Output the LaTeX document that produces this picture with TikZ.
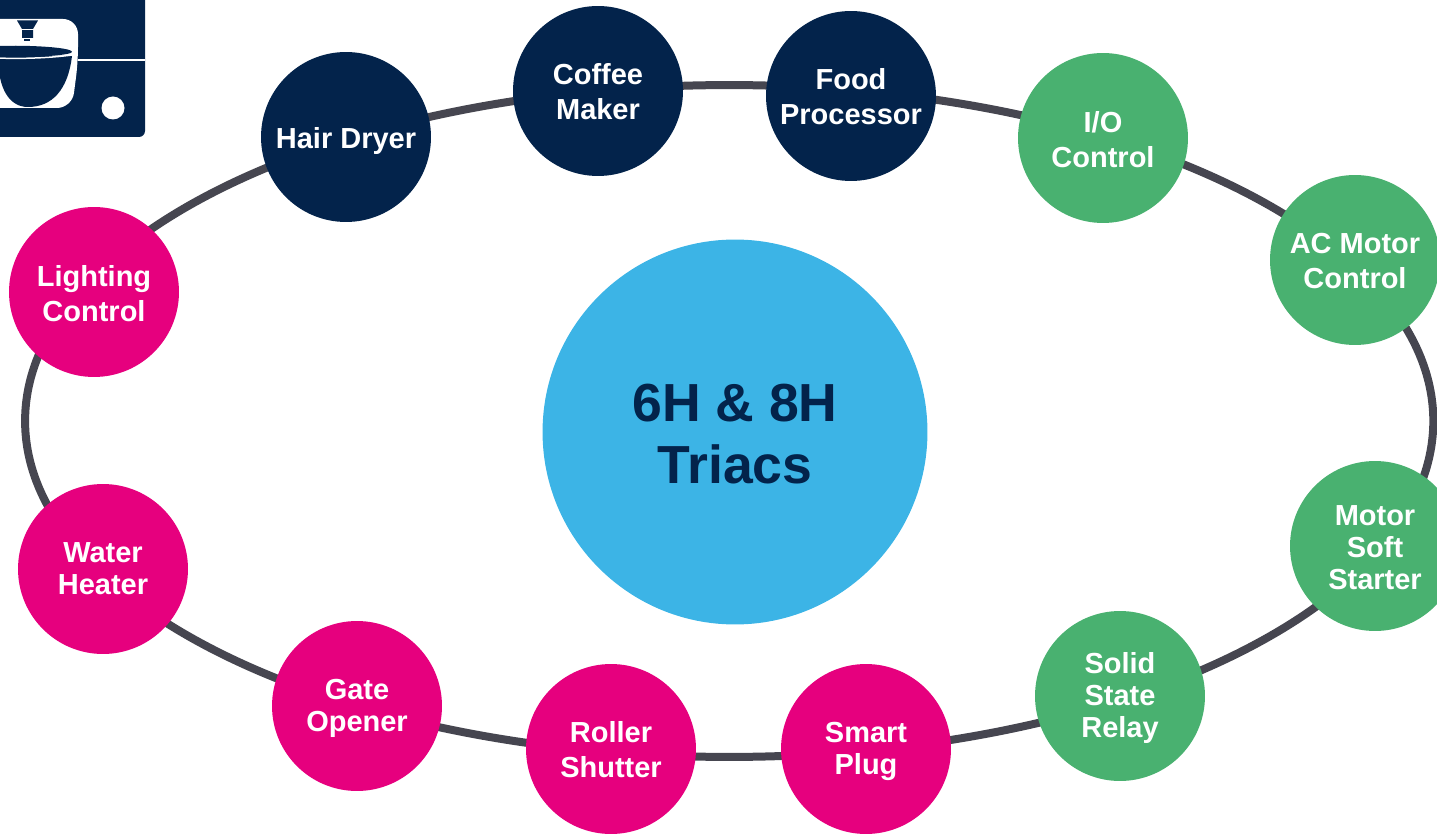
\documentclass[tikz,border=0pt]{standalone}
\usepackage{xcolor}
\usepackage{fontspec}
\setmainfont{Liberation Sans}
\usetikzlibrary{positioning, shapes.geometric}
\definecolor{navyST}{HTML}{03234B}
\definecolor{pinkST}{HTML}{E6007E}
\definecolor{greenST}{HTML}{49B170}
\definecolor{skyST}{HTML}{3CB4E6}
\definecolor{ringST}{HTML}{464650}
\newcommand{\drop}[1]{\rule{0pt}{#1}}
\tikzset{
    ring/.style={ellipse, draw=ringST, line width=0.16cm, inner sep=0pt, outer sep=0pt, minimum width=28.17cm, minimum height=13.44cm},
    hub/.style={circle, fill=skyST, text=navyST, minimum size=7.7cm, inner sep=0pt, align=center, font=\fontsize{30.5}{35.3}\selectfont\bfseries},
    app/.style={circle, text=white, minimum size=3.4cm, inner sep=0pt, align=center, font=\fontsize{16.5}{19.9}\selectfont\bfseries},
    appTight/.style={app, font=\fontsize{16.5}{18.2}\selectfont\bfseries},
    home/.style={fill=navyST},
    control/.style={fill=pinkST},
    power/.style={fill=greenST}
}

\begin{document}
\begin{tikzpicture}[x=0.02cm, y=-0.02cm]
    \useasboundingbox (0,0) rectangle (1437,834);
    \clip (0,0) rectangle (1437,834);

    % Appliance icon
    \fill[navyST, rounded corners=0.12cm] (-20,-20) rectangle (145,137);
    \fill[white, rounded corners=0.3cm] (-20,19) -- (78,19) -- (78,62) -- (72,108) -- (-20,108) -- cycle;
    \draw[white, line width=0.04cm] (78,60.5) -- (145,60.5);
    \fill[white] (113,108) circle (11.5);
    \fill[navyST] (17,20.5) -- (38,20.5) -- (33,29) -- (33,38) -- (22,38) -- (22,29) -- cycle;
    \fill[white] (21,29.3) rectangle (34,30.3);
    \fill[navyST] (24,39) rectangle (30,41);
    \fill[navyST] (-2,56) .. controls (-2,90) and (10,107) .. (28,107) .. controls (52,107) and (68,90) .. (72,56) -- cycle;
    \draw[white, line width=0.03cm] (-2,58) .. controls (20,59) and (50,58) .. (72,55);
    \fill[navyST] (0,46) .. controls (25,45) and (72,47) .. (72,52) .. controls (72,55) and (35,58) .. (0,57) -- cycle;

    % Ring behind the circles
    \node[ring] (track) at (729.2,421) {};

    % Centre
    \node[hub] (triacs) at (735,432) {\drop{24pt}6H \& 8H\\Triacs};

    % Applications
    \node[app, home] (hairDryer) at (346,137) {\drop{16.6pt}Hair Dryer};
    \node[app, home] (coffeeMaker) at (598,91) {\drop{13pt}Coffee\\Maker};
    \node[app, home] (foodProcessor) at (851,96) {\drop{13pt}Food\hspace{5pt}\\Processor};
    \node[app, power] (ioControl) at (1103,138) {\drop{14pt}I/O\\Control};
    \node[app, power] (acMotor) at (1355,260) {\drop{13pt}AC Motor\hspace{4pt}\\Control};
    \node[appTight, power] (softStarter) at (1375,546) {\drop{13pt}Motor\\Soft\\Starter};
    \node[appTight, power] (solidRelay) at (1120,696) {\drop{14pt}Solid\\State\\Relay};
    \node[appTight, control] (smartPlug) at (866,749) {\drop{14pt}Smart\\Plug};
    \node[app, control] (rollerShutter) at (611,749) {\drop{13pt}Roller\\Shutter};
    \node[appTight, control] (gateOpener) at (357,706) {\drop{14pt}Gate\\Opener};
    \node[appTight, control] (waterHeater) at (103,569) {Water\\Heater};
    \node[app, control] (lightingControl) at (94,292) {\drop{14pt}Lighting\hspace{4.5pt}\\Control};
\end{tikzpicture}
\end{document}
